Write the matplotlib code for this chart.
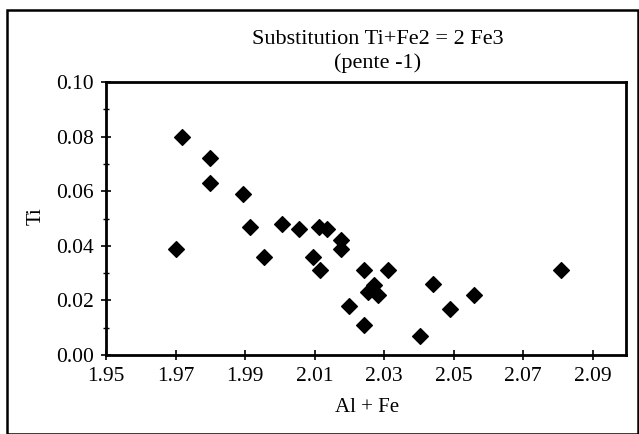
import matplotlib
matplotlib.use("Agg")
import matplotlib.pyplot as plt
from matplotlib.patches import Rectangle
from matplotlib.ticker import MultipleLocator, FormatStrFormatter

al_fe = [1.972, 1.980, 1.980, 1.9895, 1.9915, 1.970, 1.9955, 2.0005, 2.0055,
         2.0095, 2.0115, 2.0112, 2.0135, 2.0175, 2.0175, 2.0241, 2.0310,
         2.0200, 2.0243, 2.0272, 2.0255, 2.0283, 2.0440, 2.0490, 2.0560,
         2.0403, 2.0810]
ti = [0.080, 0.072, 0.063, 0.059, 0.047, 0.039, 0.036, 0.048, 0.046,
      0.036, 0.031, 0.047, 0.046, 0.042, 0.039, 0.031, 0.031,
      0.018, 0.011, 0.0255, 0.023, 0.022, 0.026, 0.017, 0.022,
      0.007, 0.031]

title_lines = ["Substitution Ti+Fe2 = 2 Fe3", "(pente -1)"]
x_label = "Al + Fe"
y_label = "Ti"

plt.rcParams['font.family'] = ['Liberation Serif', 'DejaVu Serif']

W, H = 639, 434
fig = plt.figure(figsize=(W / 100, H / 100), dpi=100)
ax = fig.add_axes([106 / W, 1 - 355 / H, (626 - 106) / W, (355 - 82) / H])

ax.scatter(al_fe, ti, marker='D', s=64, color='black', zorder=3)

ax.set_xlim(1.95, 2.0996)
ax.set_ylim(0.0, 0.10)
ax.set_xticks([1.95, 1.97, 1.99, 2.01, 2.03, 2.05, 2.07, 2.09])
ax.xaxis.set_major_formatter(FormatStrFormatter('%.2f'))
ax.yaxis.set_major_locator(MultipleLocator(0.02))
ax.yaxis.set_minor_locator(MultipleLocator(0.01))
ax.yaxis.set_major_formatter(FormatStrFormatter('%.2f'))
ax.tick_params(axis='both', which='major', direction='inout', length=7,
               width=1.2, labelsize=15.5, color='black', pad=5)
ax.tick_params(axis='y', which='minor', direction='inout', length=5, width=1.0)
for sp in ax.spines.values():
    sp.set_linewidth(2.0)
    sp.set_color('black')

fig.text(367 / W, 1 - 408 / H, x_label, ha='center', va='center', fontsize=15)
fig.text(36 / W, 1 - 216 / H, y_label, ha='center', va='center', fontsize=15,
         rotation=90)

fig.text(378 / W, 1 - 39 / H, title_lines[0], ha='center', va='center', fontsize=16)
fig.text(378 / W, 1 - 63 / H, title_lines[1], ha='center', va='center', fontsize=16)

fig.patches.append(Rectangle((7 / W, 0), (W - 8) / W, 1 - 10 / H, transform=fig.transFigure,
                             fill=False, edgecolor='black', linewidth=1.8))

fig.savefig("out.png", dpi=100)
